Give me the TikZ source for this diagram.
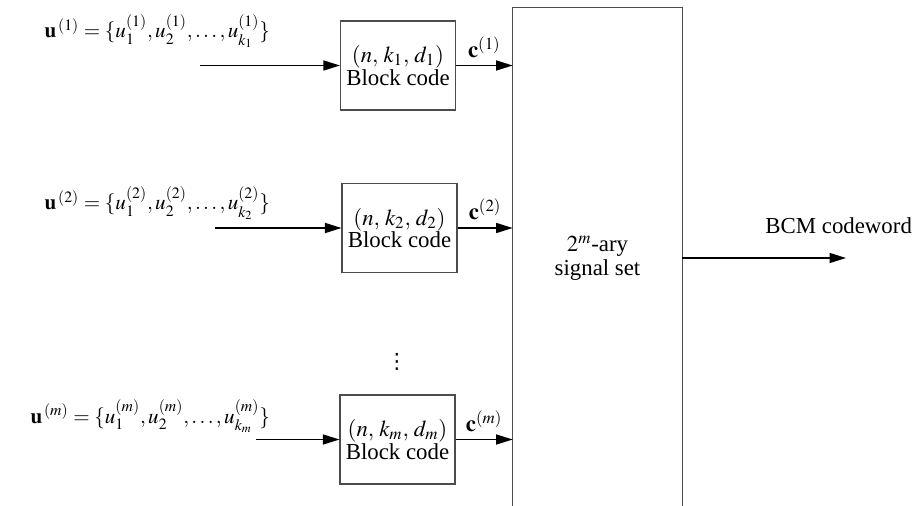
\documentclass[tikz,border=0pt]{standalone}
\usepackage{amsmath}
\usepackage{mathptmx}
\usepackage{fontspec}
\setmainfont{Liberation Serif}
\newfontfamily\symfont{DejaVu Sans}
\usepackage{tikz}
\usetikzlibrary{arrows.meta,positioning}
\tikzset{
  bcBlock/.style={
    rectangle, draw=black!70, line width=0.6pt, fill=white,
    align=center, text=black, minimum width=2.3cm, minimum height=1.78cm,
    inner sep=1pt, font=\rmfamily\fontsize{13}{13}\selectfont
  },
  bcMapper/.style={
    rectangle, draw=none, align=center, minimum width=3.38cm,
    minimum height=10cm, inner sep=0pt, font=\rmfamily\fontsize{13}{13.5}\selectfont
  },
  bcArrow/.style={-{Triangle[length=3.3mm,width=2mm]}, draw=black, line width=0.8pt},
  bcLabel/.style={font=\rmfamily\fontsize{13}{13}\selectfont, inner sep=1pt},
  bcInput/.style={font=\fontsize{12}{12}\selectfont, inner sep=1pt, anchor=base east}
}
\begin{document}
\begin{tikzpicture}[x=0.02cm, y=-0.02cm]
  \clip (0,0) rectangle (918,506);

  % block encoders
  \node[bcBlock] (blk1) at (398,65.5) {$(n,\, k_1,\, d_1)$\\Block code};
  \node[bcBlock] (blk2) at (399.5,228) {$(n,\, k_2,\, d_2)$\\Block code};
  \node[bcBlock] (blk3) at (397.5,439.5) {$(n,\, k_m,\, d_m)$\\Block code};
  \node[bcLabel, font=\symfont\fontsize{12}{12}\selectfont] (dots) at (397,362) {⋮};

  % signal set mapper
  \node[bcMapper] (sig) at (597.5,258) {$2^m$-ary\\signal set};
  \draw[draw=black!70, line width=0.6pt] (sig.south west) |- (sig.north east) -- (sig.south east);

  % input sequences
  \node[bcInput] (msg1) at (272,38)
    {$\mathbf{u}^{\,(1)} = \{u_1^{(1)},u_2^{(1)},\ldots,u_{k_1}^{(1)}\}$};
  \node[bcInput] (msg2) at (272,210)
    {$\mathbf{u}^{\,(2)} = \{u_1^{(2)},u_2^{(2)},\ldots,u_{k_2}^{(2)}\}$};
  \node[bcInput] (msg3) at (272,423)
    {$\mathbf{u}^{\,(m)} = \{u_1^{(m)},u_2^{(m)},\ldots,u_{k_m}^{(m)}\}$};

  \coordinate (in1) at (200,65.5);
  \coordinate (in2) at (215,228);
  \coordinate (in3) at (256,439.5);
  \draw[bcArrow] (in1) -- (blk1.west);
  \draw[bcArrow] (in2) -- (blk2.west);
  \draw[bcArrow] (in3) -- (blk3.west);

  % code words into the mapper
  \draw[bcArrow] (blk1.east) -- node[bcLabel, above=3pt] {$\mathbf{c}^{(1)}$} (blk1.east -| sig.west);
  \draw[bcArrow] (blk2.east) -- node[bcLabel, above=3pt] {$\mathbf{c}^{(2)}$} (blk2.east -| sig.west);
  \draw[bcArrow] (blk3.east) -- node[bcLabel, above=3pt] {$\mathbf{c}^{(m)}$} (blk3.east -| sig.west);

  % output
  \coordinate (out) at (846,258);
  \draw[bcArrow] (sig.east) -- node[bcLabel, pos=0.955, anchor=base, yshift=0.5cm] {BCM codeword} (out);
\end{tikzpicture}
\end{document}
